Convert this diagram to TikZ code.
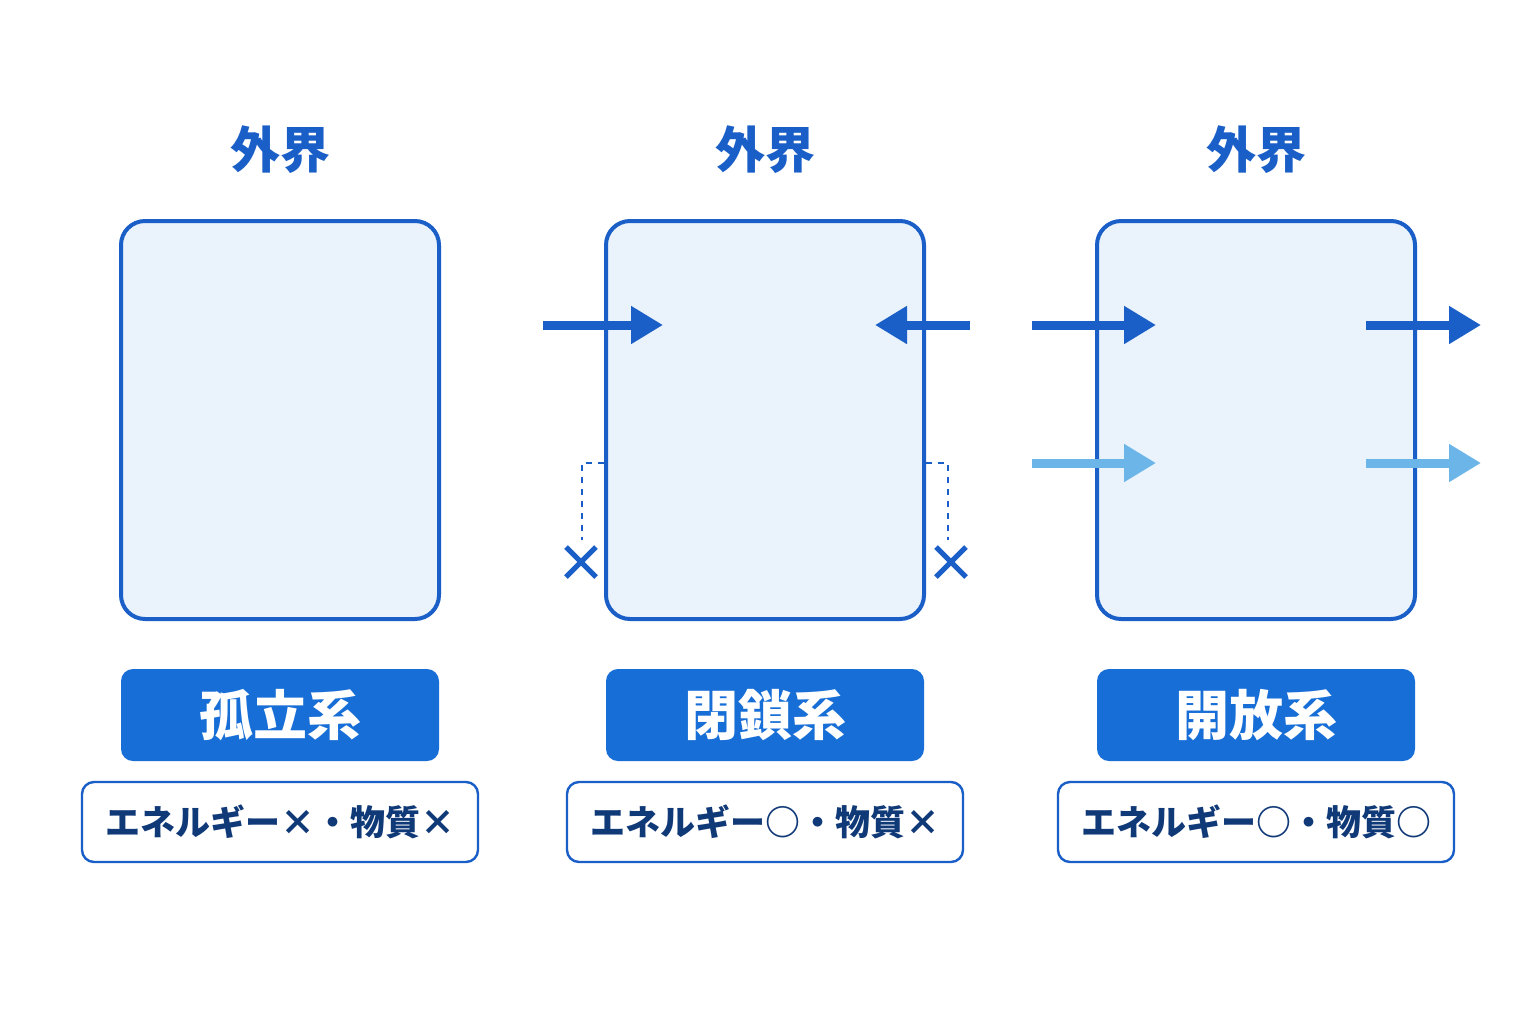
\documentclass[tikz,border=0pt]{standalone}
\usepackage{fontspec}
\newfontfamily\cjk{Noto Sans CJK JP}
\usetikzlibrary{arrows.meta}
\definecolor{sysblue}{HTML}{1A5FC8}
\definecolor{sysfill}{HTML}{EAF3FC}
\definecolor{labfill}{HTML}{176ED6}
\definecolor{lightblue}{HTML}{6BB5E8}
\begin{document}
\begin{tikzpicture}[x=0.5pt,y=-0.5pt]
        \tikzstyle{every node}=[font=\cjk]
        \tikzstyle{sys}=[draw=sysblue,fill=sysfill,line width=2pt,rounded corners=12pt,minimum width=159pt,minimum height=199pt]
        \tikzstyle{world}=[text=sysblue,font=\cjk\bfseries\fontsize{25}{28}\selectfont]
        \tikzstyle{sysname}=[fill=labfill,text=white,rounded corners=6pt,minimum width=159pt,minimum height=46pt,font=\cjk\bfseries\fontsize{27}{30}\selectfont]
        \tikzstyle{ruletag}=[draw=sysblue,fill=white,line width=1.2pt,rounded corners=6pt,minimum width=198pt,minimum height=40pt,text=sysblue!60!black,font=\cjk\bfseries\fontsize{17.5}{20}\selectfont]
        \tikzstyle{flow}=[line width=4.5pt,-{Triangle[length=16pt,width=18pt]}]
        \tikzstyle{cross}=[sysblue,line width=2.5pt]

        \useasboundingbox[fill=white] (0,0) rectangle (1536,1024);

        \foreach \x/\n/\t/\r in {280/iso/孤立系/エネルギー×・物質×,
                                 765/clo/閉鎖系/エネルギー○・物質×,
                                 1256/opn/開放系/エネルギー○・物質○} {
            \node [world] at (\x,150) (\n_world) {外界};
            \node [sys] at (\x,420) (\n) {};
            \node [sysname] at (\x,715) (\n_name) {\t};
            \node [ruletag] at (\x,822) (\n_rule) {\r};
        };

        % closed system: energy in, matter blocked
        \coordinate (ca) at (543,325);
        \coordinate (cb) at (663,325);
        \coordinate (cc) at (970,325);
        \coordinate (cd) at (875,325);
        \draw[flow,sysblue] (ca) -- (cb);
        \draw[flow,sysblue] (cc) -- (cd);
        \draw[sysblue,line width=1.2pt,dashed] (clo.west |- 0,463) -- (582,463) -- (582,540);
        \draw[sysblue,line width=1.2pt,dashed] (clo.east |- 0,463) -- (948,463) -- (948,540);
        \draw[cross] (566,547) -- (596,577) (566,577) -- (596,547);
        \draw[cross] (936,547) -- (966,577) (936,577) -- (966,547);

        % open system: energy and matter pass
        \foreach \y/\c in {325/sysblue,463/lightblue} {
            \coordinate (oa\y) at (1032,\y);
            \coordinate (ob\y) at (1156,\y);
            \coordinate (oc\y) at (1366,\y);
            \coordinate (od\y) at (1481,\y);
            \draw[flow,\c] (oa\y) -- (ob\y);
            \draw[flow,\c] (oc\y) -- (od\y);
        };
\end{tikzpicture}
\end{document}
